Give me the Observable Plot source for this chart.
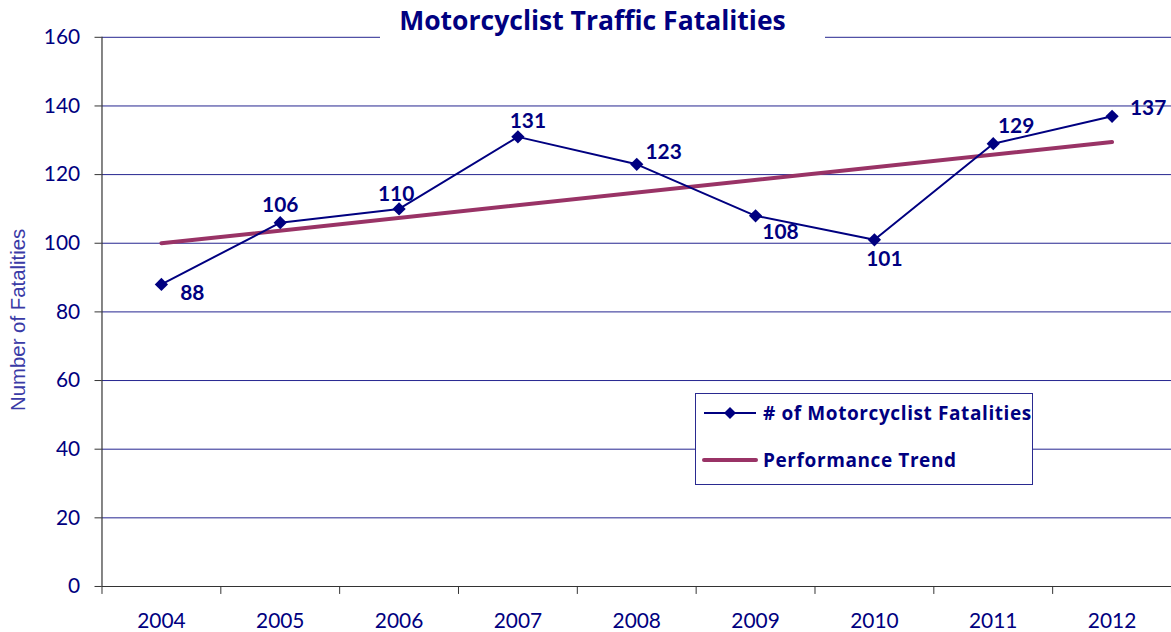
<!DOCTYPE html>
<html>
<head>
<meta charset="utf-8">
<script src="https://cdn.jsdelivr.net/npm/d3@7"></script>
<script src="https://cdn.jsdelivr.net/npm/@observablehq/plot@0.6"></script>
<style>
  html, body { margin: 0; padding: 0; background: #fff; }
  #wrap { position: relative; width: 1171px; height: 632px; overflow: hidden; font-family: "Open Sans", Lato, sans-serif; }
  #title { position: absolute; left: 380px; top: 0; width: 425px; padding-right: 20px; height: 40px; background: #fff;
           text-align: center; font-weight: bold; font-size: 26.5px; color: #000080; line-height: 40px; white-space: nowrap; }
  #legend { position: absolute; left: 695px; top: 393px; width: 336px; height: 90px; background: #fff;
            border: 1px solid #2a2a90; font-weight: bold; font-size: 19px; letter-spacing: 0.6px; color: #000080; }
  .item { position: absolute; left: 6px; display: flex; align-items: center; line-height: 20px; white-space: nowrap; }
  .item svg { margin-right: 5px; }
</style>
</head>
<body>
<div id="wrap">
  <div id="chart"></div>
  <div id="title">Motorcyclist Traffic Fatalities</div>
  <div id="legend">
    <div class="item" style="top:9px"><svg width="56" height="14"><line x1="2" y1="7" x2="54" y2="7" stroke="#000080" stroke-width="2"/><path d="M28,1 L34,7 L28,13 L22,7 Z" fill="#000080"/></svg># of Motorcyclist Fatalities</div>
    <div class="item" style="top:56px"><svg width="56" height="14"><line x1="2" y1="7" x2="54" y2="7" stroke="#993366" stroke-width="4" stroke-linecap="round"/></svg>Performance Trend</div>
  </div>
</div>
<script>
const years = [2004, 2005, 2006, 2007, 2008, 2009, 2010, 2011, 2012];
const fatalities = [88, 106, 110, 131, 123, 108, 101, 129, 137];
const trendYears = [2004, 2012];
const trendValues = [100, 129.5];
const yTicks = [0, 20, 40, 60, 80, 100, 120, 140, 160];

// label offsets (styling only)
const labelDx = [31, 0, -3, 10, 27, 25, 10, 23, 18];
const labelDy = [9, -17, -15, -16, -12, 17, 20, -17, -8];
const labelAnchor = ["middle","middle","middle","middle","middle","middle","middle","middle","start"];

const points = years.map((y, i) => ({year: y, value: fatalities[i]}));
const trend = trendYears.map((y, i) => ({year: y, value: trendValues[i]}));
const boundaries = d3.range(years.length + 1).map(i => years[0] - 0.5 + i);

const navy = "#000080";

const labelMarks = points.map((d, i) => Plot.text([d], {
  x: "year", y: "value", text: d => String(d.value),
  dx: labelDx[i], dy: labelDy[i], textAnchor: labelAnchor[i],
  fill: navy, fontWeight: "bold", fontSize: 21, fontFamily: "Lato, sans-serif"
}));

const chart = Plot.plot({
  width: 1177,
  height: 632,
  marginLeft: 102,
  marginRight: 0,
  marginTop: 37,
  marginBottom: 43,
  style: {fontFamily: "Lato, sans-serif", background: "#fff", overflow: "visible"},
  x: {domain: [years[0] - 0.5, years[years.length - 1] + 0.5], axis: null},
  y: {domain: [0, 160], axis: null},
  marks: [
    Plot.gridY(yTicks.filter(v => v > 0), {stroke: "#23238f", strokeOpacity: 1, strokeWidth: 1}),
    Plot.axisY(yTicks, {tickSize: 7, tickPadding: 15, fontSize: 21, stroke: "#333", label: null, fill: navy}),
    Plot.text(["Number of Fatalities"], {frameAnchor: "left", textAnchor: "middle", rotate: -90, dx: -84, dy: 8,
      fill: "#3a3aa6", fontSize: 20.5, fontFamily: "'Liberation Sans', Arial, sans-serif"}),
    Plot.axisX(boundaries, {tickSize: 8, tickFormat: () => "", stroke: "#333", label: null}),
    Plot.axisX(years, {tickSize: 0, tickPadding: 27, fontSize: 21, fill: navy, tickFormat: d => String(d), label: null}),
    Plot.ruleY([0], {stroke: "#333", strokeWidth: 1.2}),
    Plot.ruleX([boundaries[0]], {stroke: "#333", strokeWidth: 1.2}),
    Plot.line(trend, {x: "year", y: "value", stroke: "#993366", strokeWidth: 4, strokeLinecap: "round"}),
    Plot.line(points, {x: "year", y: "value", stroke: navy, strokeWidth: 2}),
    Plot.dot(points, {x: "year", y: "value", symbol: "diamond2", r: 6, fill: navy, stroke: "none"}),
    ...labelMarks
  ]
});
document.getElementById("chart").appendChild(chart);
</script>
</body>
</html>
